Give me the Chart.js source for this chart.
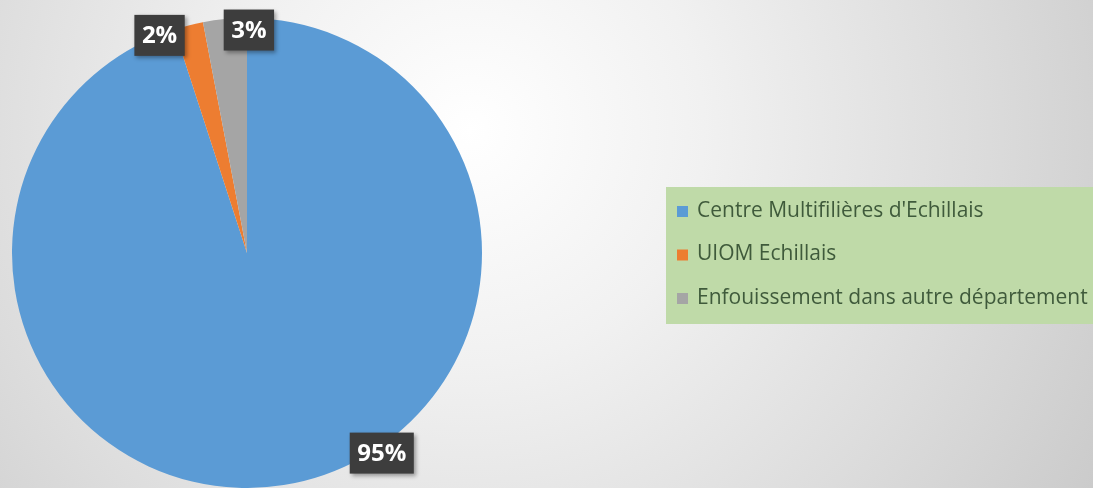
<!DOCTYPE html>
<html>
<head>
<meta charset="utf-8">
<script src="https://cdn.jsdelivr.net/npm/chart.js@4"></script>
<style>
  html, body { margin: 0; padding: 0; overflow: hidden; background: #fff; }
  #wrap { position: relative; width: 1093px; height: 488px; }
</style>
</head>
<body>
<div id="wrap"><canvas id="treatmentChart"></canvas></div>
<script>
const categories = ["Centre Multifilières d'Echillais", 'UIOM Echillais', 'Enfouissement dans autre département'];
const shares = [95, 2, 3];
const sliceColors = ['#5B9BD5', '#ED7D31', '#A5A5A5'];

// where each data label sits, relative to the outer edge at the slice middle
const labelNudge = [[98, -32], [-29, 10], [24, 11]];

const backgroundPlugin = {
    id: 'bg',
    beforeDraw(chart) {
        const ctx = chart.ctx;
        const g = ctx.createRadialGradient(470, 130, 0, 470, 130, 780);
        g.addColorStop(0, '#ffffff');
        g.addColorStop(0.3, '#f1f1f1');
        g.addColorStop(0.65, '#dcdcdc');
        g.addColorStop(1, '#c6c6c6');
        ctx.save();
        ctx.fillStyle = g;
        ctx.fillRect(0, 0, chart.width, chart.height);
        ctx.restore();
    }
};

const labelPlugin = {
    id: 'pctLabels',
    afterDatasetsDraw(chart) {
        const ctx = chart.ctx;
        const data = chart.data.datasets[0].data;
        const total = data.reduce((a, b) => a + b, 0);
        ctx.save();
        ctx.font = 'bold 24px "Open Sans"';
        ctx.textAlign = 'center';
        ctx.textBaseline = 'middle';
        chart.getDatasetMeta(0).data.forEach((arc, i) => {
            const mid = (arc.startAngle + arc.endAngle) / 2;
            const cx = arc.x + Math.cos(mid) * arc.outerRadius + labelNudge[i][0];
            const cy = arc.y + Math.sin(mid) * arc.outerRadius + labelNudge[i][1];
            const txt = Math.round(data[i] / total * 100) + '%';
            const w = ctx.measureText(txt).width + 15;
            const h = 41;
            ctx.shadowColor = 'rgba(0,0,0,0.35)';
            ctx.shadowBlur = 4;
            ctx.shadowOffsetX = 2;
            ctx.shadowOffsetY = 2;
            ctx.fillStyle = '#3d3d3d';
            ctx.fillRect(cx - w / 2, cy - h / 2, w, h);
            ctx.shadowColor = 'transparent';
            ctx.fillStyle = '#ffffff';
            ctx.fillText(txt, cx, cy + 1);
        });
        ctx.restore();
    }
};

const legendPlugin = {
    id: 'boxLegend',
    afterDraw(chart) {
        const ctx = chart.ctx;
        const colors = chart.data.datasets[0].backgroundColor;
        ctx.save();
        ctx.fillStyle = '#bfdaa8';
        ctx.fillRect(666, 187, 440, 137);
        ctx.font = '21px "Open Sans"';
        ctx.textBaseline = 'middle';
        chart.data.labels.forEach((lab, i) => {
            const y = 211 + i * 43.5;
            ctx.fillStyle = colors[i];
            ctx.fillRect(677, y - 5, 11, 11);
            ctx.fillStyle = '#3f5a3b';
            ctx.fillText(lab, 697, y);
        });
        ctx.restore();
    }
};

const ctx = document.getElementById('treatmentChart').getContext('2d');
new Chart(ctx, {
    type: 'pie',
    data: {
        labels: categories,
        datasets: [{
            data: shares,
            backgroundColor: sliceColors,
            borderWidth: 0
        }]
    },
    options: {
        responsive: true,
        maintainAspectRatio: false,
        animation: false,
        layout: {
            padding: { left: 12, top: 18, right: 611, bottom: 0 }
        },
        plugins: {
            legend: { display: false },
            tooltip: { enabled: false }
        }
    },
    plugins: [backgroundPlugin, labelPlugin, legendPlugin]
});
</script>
</body>
</html>
